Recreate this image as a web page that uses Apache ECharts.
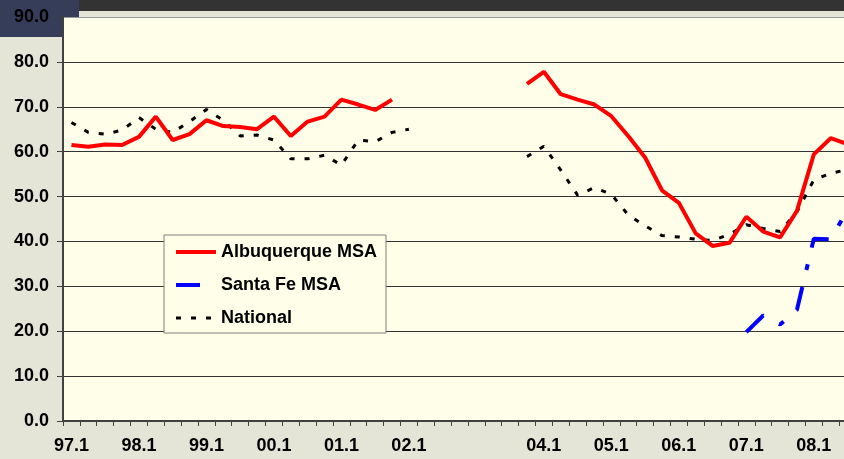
<!DOCTYPE html>
<html>
<head>
<meta charset="utf-8">
<script src="https://cdn.jsdelivr.net/npm/echarts@6/dist/echarts.min.js"></script>
<style>
html,body{margin:0;padding:0;background:#e4e4d7;}
#chart{width:844px;height:459px;}
</style>
</head>
<body>
<div id="chart"></div>
<script>
const categories = [
  '97.1','97.2','97.3','97.4','98.1','98.2','98.3','98.4',
  '99.1','99.2','99.3','99.4','00.1','00.2','00.3','00.4',
  '01.1','01.2','01.3','01.4','02.1','02.2','02.3','02.4',
  '03.1','03.2','03.3','03.4','04.1','04.2','04.3','04.4',
  '05.1','05.2','05.3','05.4','06.1','06.2','06.3','06.4',
  '07.1','07.2','07.3','07.4','08.1','08.2','08.3'
];
const tickLabels = ['97.1','98.1','99.1','00.1','01.1','02.1','04.1','05.1','06.1','07.1','08.1'];
const yTicks = [0,10,20,30,40,50,60,70,80,90];

const albuquerque = [
  61.5, 61.1, 61.6, 61.5, 63.3, 67.8, 62.6, 63.9,
  67.0, 65.7, 65.5, 65.0, 67.8, 63.5, 66.7, 67.8,
  71.6, 70.5, 69.3, 71.6, null, null, null, null,
  null, null, null, 75.1, 77.8, 72.8, 71.6, 70.5,
  67.9, 63.5, 58.7, 51.4, 48.6, 41.8, 39.0, 39.7,
  45.5, 42.2, 40.9, 46.8, 59.4, 63.0, 61.7
];
const santaFe = [
  null, null, null, null, null, null, null, null,
  null, null, null, null, null, null, null, null,
  null, null, null, null, null, null, null, null,
  null, null, null, null, null, null, null, null,
  null, null, null, null, null, null, null, null,
  19.8, 23.5, 21.5, 24.8, 40.6, 40.5, 47.0
];
const national = [
  66.5, 64.3, 63.9, 64.8, 67.6, 65.0, 64.3, 66.7,
  69.4, 67.0, 63.5, 63.7, 62.6, 58.4, 58.4, 59.2,
  57.0, 62.6, 62.2, 64.3, 65.0, null, null, null,
  null, null, null, 58.9, 61.2, 55.9, 50.3, 52.0,
  50.5, 45.9, 43.5, 41.3, 41.0, 40.5, 40.2, 41.6,
  43.7, 42.9, 42.2, 46.6, 53.7, 55.2, 56.0
];

const FONT = '"Liberation Sans", Arial, sans-serif';
const chart = echarts.init(document.getElementById('chart'), null, {renderer: 'canvas'});
chart.setOption({
  backgroundColor: '#e4e4d7',
  animation: false,
  graphic: [
    {type: 'rect', z: -10, shape: {x: 0, y: 0, width: 79, height: 37}, style: {fill: '#363d58'}},
    {type: 'rect', z: -10, shape: {x: 79, y: 0, width: 765, height: 11}, style: {fill: '#333333'}}
  ],
  grid: {
    left: 63, top: 17, width: 793, height: 404,
    show: true, backgroundColor: '#fefee9', borderWidth: 0,
    containLabel: false, outerBoundsMode: 'none'
  },
  legend: {
    orient: 'vertical', left: 164, top: 235,
    itemWidth: 40, itemHeight: 14, itemGap: 13,
    padding: [7, 9, 5, 10],
    backgroundColor: '#fefee9', borderColor: '#7f7f7f', borderWidth: 1,
    itemStyle: {opacity: 0},
    lineStyle: {width: 'inherit', type: 'inherit'},
    textStyle: {fontSize: 18, fontWeight: 'bold', color: '#000', fontFamily: FONT, lineHeight: 20},
    data: ['Albuquerque MSA', 'Santa Fe MSA', 'National']
  },
  xAxis: {
    type: 'category', data: categories, boundaryGap: true,
    axisLine: {lineStyle: {color: '#404040', width: 2}},
    axisTick: {show: true, interval: 0, length: 5, lineStyle: {color: '#404040', width: 1}},
    axisLabel: {
      interval: 0, margin: 16, fontSize: 18, fontWeight: 'bold', color: '#000', fontFamily: FONT,
      formatter: v => tickLabels.includes(v) ? v : ''
    },
    splitLine: {show: false}
  },
  yAxis: {
    type: 'value', min: 0, max: 90, interval: 10,
    axisLine: {show: true, lineStyle: {color: '#404040', width: 2}},
    axisTick: {show: true, length: 6, lineStyle: {color: '#404040'}},
    axisLabel: {
      margin: 14, fontSize: 18, fontWeight: 'bold', color: '#000', fontFamily: FONT,
      formatter: v => yTicks.includes(v) ? v.toFixed(1) : ''
    },
    splitLine: {show: true, lineStyle: {color: ['#333','#333','#333','#333','#333','#333','#333','#333','#333','#9a9a9a'], width: 1}}
  },
  series: [
    {name: 'Albuquerque MSA', type: 'line', data: albuquerque, symbol: 'none',
     lineStyle: {color: '#ff0000', width: 4}, itemStyle: {color: '#ff0000'}, z: 4},
    {name: 'Santa Fe MSA', type: 'line', data: santaFe, symbol: 'none',
     lineStyle: {color: '#0000ff', width: 4, type: [24, 17.5, 6, 17]}, itemStyle: {color: '#0000ff'}, z: 3},
    {name: 'National', type: 'line', data: national, symbol: 'none',
     lineStyle: {color: '#000000', width: 3, type: [5, 10]}, itemStyle: {color: '#000000'}, z: 3}
  ]
});
</script>
</body>
</html>
